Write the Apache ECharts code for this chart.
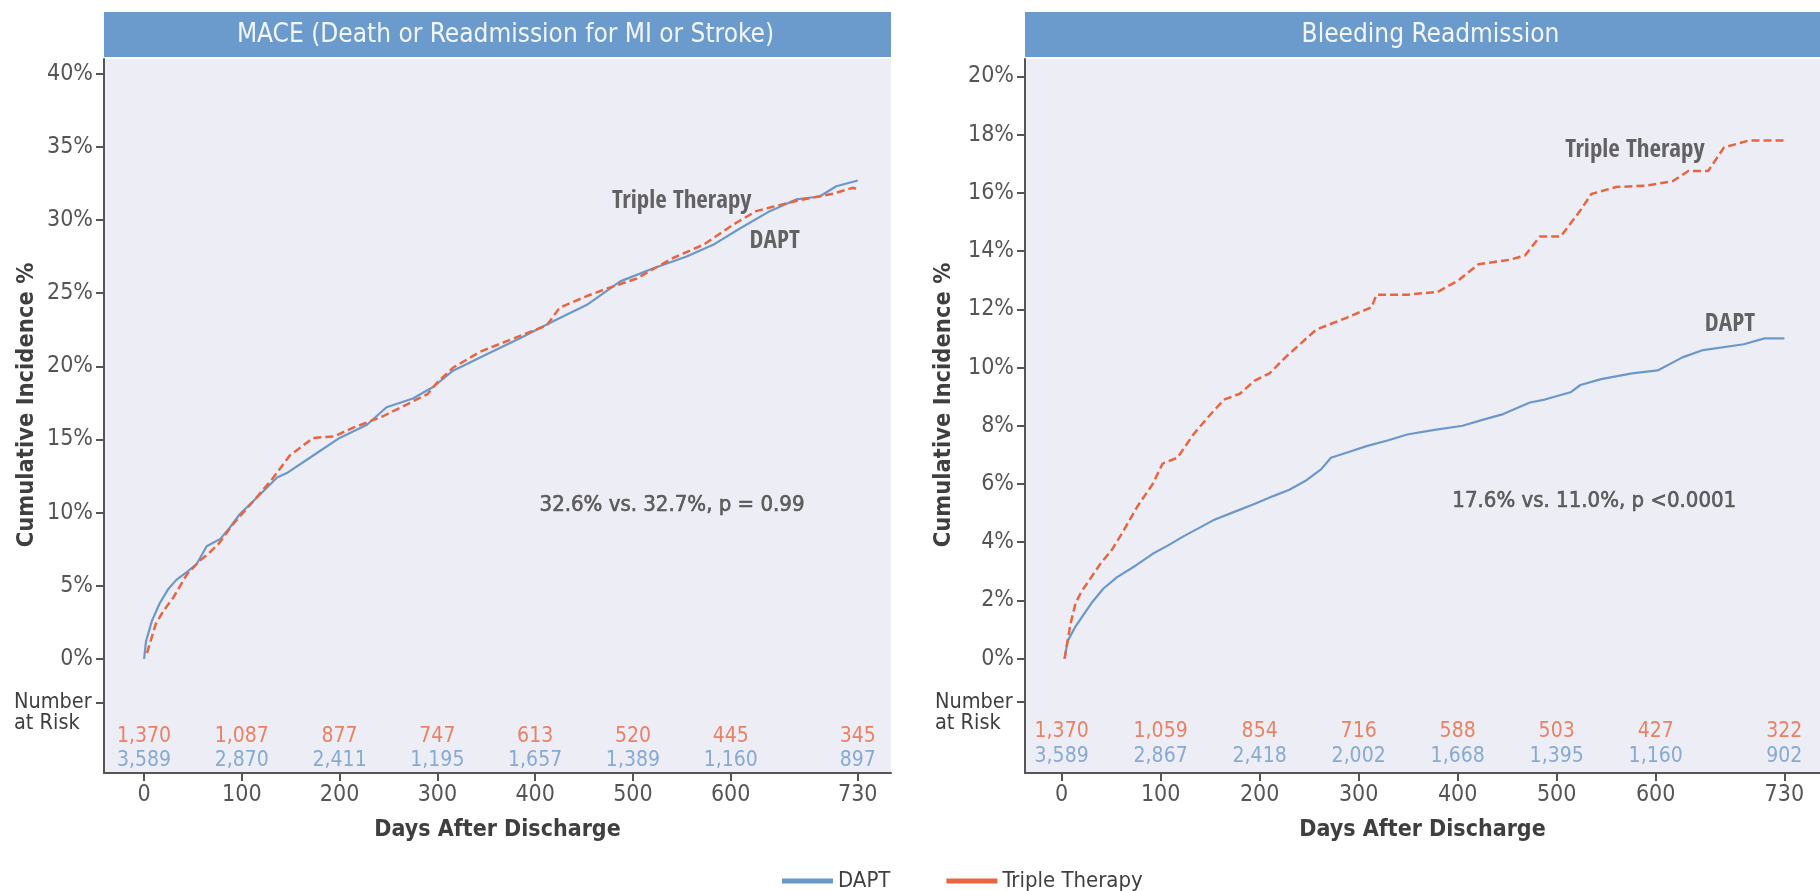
<!DOCTYPE html>
<html><head><meta charset="utf-8">
<script src="https://cdn.jsdelivr.net/npm/echarts@6/dist/echarts.min.js"></script>
<style>html,body{margin:0;padding:0;background:#fff}#c{width:1820px;height:891px}</style>
</head><body><div id="c"></div>
<script>
// ---- data ----
const riskDays = [0, 100, 200, 300, 400, 500, 600, 730];
const maceTripleRisk = ['1,370','1,087','877','747','613','520','445','345'];
const maceDaptRisk   = ['3,589','2,870','2,411','1,195','1,657','1,389','1,160','897'];
const bleedTripleRisk = ['1,370','1,059','854','716','588','503','427','322'];
const bleedDaptRisk   = ['3,589','2,867','2,418','2,002','1,668','1,395','1,160','902'];
const maceTicks = [0, 5, 10, 15, 20, 25, 30, 35, 40];
const bleedTicks = [0, 2, 4, 6, 8, 10, 12, 14, 16, 18, 20];

const maceDapt = [[0,0],[2,1.2],[8,2.6],[16,3.8],[25,4.8],[33,5.4],[45,6.0],[54,6.5],[64,7.7],[78,8.2],[88,9.0],[98,9.9],[115,11.0],[136,12.4],[146,12.7],[173,13.9],[200,15.1],[228,16.0],[248,17.2],[275,17.8],[296,18.6],[316,19.7],[350,20.8],[384,21.9],[419,23.1],[453,24.2],[487,25.8],[521,26.7],[555,27.5],[582,28.3],[609,29.4],[640,30.6],[667,31.4],[691,31.6],[708,32.3],[730,32.7]];
const maceTriple = [[3,0.4],[12,2.4],[20,3.3],[30,4.2],[44,5.8],[57,6.7],[66,7.2],[76,7.85],[91,9.2],[112,10.8],[130,12.2],[139,13.0],[149,13.9],[173,15.1],[194,15.2],[214,15.8],[245,16.6],[269,17.4],[290,18.1],[300,18.9],[316,19.9],[344,21.0],[378,21.9],[412,22.8],[425,24.0],[453,24.8],[473,25.3],[504,26.0],[541,27.4],[572,28.3],[603,29.7],[626,30.6],[643,30.9],[667,31.3],[705,31.8],[725,32.2],[730,32.1]];
const bleedDapt = [[3,0],[6,0.6],[14,1.1],[22,1.5],[30,1.9],[42,2.4],[56,2.8],[75,3.2],[92,3.6],[108,3.9],[123,4.2],[153,4.75],[175,5.05],[194,5.3],[215,5.6],[230,5.8],[246,6.1],[262,6.5],[272,6.9],[290,7.1],[308,7.3],[330,7.5],[349,7.7],[375,7.85],[405,8.0],[425,8.2],[446,8.4],[473,8.8],[488,8.9],[514,9.15],[524,9.4],[545,9.6],[576,9.8],[602,9.9],[627,10.35],[648,10.6],[689,10.8],[710,11.0],[730,11.0]];
const bleedTriple = [[3,0],[6,0.6],[9,1.2],[14,1.9],[20,2.3],[30,2.8],[40,3.3],[50,3.7],[61,4.3],[76,5.2],[92,6.0],[102,6.7],[117,6.9],[133,7.7],[148,8.3],[164,8.9],[180,9.1],[195,9.55],[210,9.8],[226,10.35],[257,11.3],[287,11.7],[313,12.07],[318,12.5],[349,12.5],[380,12.6],[401,13.0],[421,13.55],[452,13.7],[468,13.85],[483,14.5],[504,14.5],[524,15.4],[535,15.96],[560,16.2],[591,16.25],[617,16.4],[633,16.75],[653,16.75],[669,17.56],[694,17.8],[730,17.8]];

const FONT = "'DejaVu Sans Condensed',sans-serif";
const CFONT = "'Open Sans Condensed','DejaVu Sans Condensed',sans-serif";
const BLUE = '#6B98CB', RED = '#E8653F', DARK = '#3F3F3F', AX = '#555';

const panels = [
  {title:'MACE (Death or Readmission for MI or Stroke)', left:104, width:787, xmin:-41, xmax:764, ymin:-7.8, ymax:41,
   ticks:maceTicks, numTick:-2.97, numLabel:-3.68, redRow:-5.3, blueRow:-6.95, nameGap:65,
   dapt:maceDapt, triple:maceTriple, tripleRisk:maceTripleRisk, daptRisk:maceDaptRisk,
   ann:{x:540,y:10.5,t:'32.6% vs. 32.7%, p = 0.99'}, tLab:{x:550,y:31.25}, dLab:{x:645,y:28.5}},
  {title:'Bleeding Readmission', left:1025, width:795, xmin:-37, xmax:766, ymin:-3.93, ymax:20.6,
   ticks:bleedTicks, numTick:-1.49, numLabel:-1.85, redRow:-2.5, blueRow:-3.37, nameGap:69,
   dapt:bleedDapt, triple:bleedTriple, tripleRisk:bleedTripleRisk, daptRisk:bleedDaptRisk,
   ann:{x:538,y:5.4,t:'17.6% vs. 11.0%, p <0.0001'}, tLab:{x:579,y:17.45}, dLab:{x:675,y:11.47}}
];
const TOP = 59, H = 714;

const option = {
  backgroundColor:'#fff',
  animation:false,
  grid: panels.map(p=>({left:p.left, top:TOP, width:p.width, height:H, show:true, backgroundColor:'#EDEDF5', borderWidth:0, outerBoundsMode:'none', containLabel:false})),
  xAxis: panels.map((p,i)=>({
    gridIndex:i, type:'value', min:p.xmin, max:p.xmax,
    axisLine:{show:true, onZero:false, lineStyle:{color:AX, width:2}},
    axisTick:{show:true, customValues:riskDays, length:8, lineStyle:{color:AX, width:2}},
    axisLabel:{customValues:riskDays, fontSize:23, color:AX, margin:11, fontFamily:FONT},
    splitLine:{show:false},
    name:'Days After Discharge', nameLocation:'middle', nameGap:46, nameMoveOverlap:false,
    nameTextStyle:{fontSize:23, fontWeight:'bold', color:DARK, fontFamily:FONT}
  })),
  yAxis: panels.map((p,i)=>({
    gridIndex:i, type:'value', min:p.ymin, max:p.ymax,
    axisLine:{show:true, onZero:false, lineStyle:{color:AX, width:2}},
    axisTick:{show:true, customValues:p.ticks.concat([p.numTick]), length:8, lineStyle:{color:AX, width:2}},
    axisLabel:{customValues:p.ticks.concat([p.numLabel]), fontSize:23, color:AX, margin:11, fontFamily:FONT,
      formatter:v=> v<0 ? '{n|Number}\n{n|at Risk}' : v+'%',
      rich:{n:{width:79, align:'left', fontSize:21.5, lineHeight:21, color:DARK, fontFamily:FONT}}},
    splitLine:{show:false},
    name:'Cumulative Incidence %', nameLocation:'middle', nameGap:p.nameGap, nameMoveOverlap:false,
    nameTextStyle:{fontSize:23.5, fontWeight:'bold', color:DARK, fontFamily:FONT, padding:[0,0,0,22]}
  })),
  legend:{
    data:[{name:'DAPT', icon:'rect'},{name:'Triple Therapy', icon:'rect'}],
    left:777, top:865, itemWidth:51, itemHeight:5, itemGap:56,
    textStyle:{fontSize:22, color:DARK, fontFamily:FONT}
  },
  graphic: panels.flatMap(p=>[
    {type:'rect', shape:{x:p.left, y:12, width:p.width, height:45}, style:{fill:'#6B9BCC'}, silent:true},
    {type:'text', x:p.left+p.width/2+8, y:35, style:{text:p.title, fill:'#F2F6FB', fontSize:26, fontFamily:FONT, align:'center', verticalAlign:'middle'}, silent:true}
  ]),
  series: panels.flatMap((p,i)=>[
    {name:'DAPT', type:'line', xAxisIndex:i, yAxisIndex:i, data:p.dapt, showSymbol:false, symbol:'none', color:BLUE,
     lineStyle:{color:BLUE, width:2.2}, z:3},
    {name:'Triple Therapy', type:'line', xAxisIndex:i, yAxisIndex:i, data:p.triple, showSymbol:false, symbol:'none', color:RED,
     lineStyle:{color:RED, width:2.5, type:[8,4]}, z:4},
    {type:'scatter', xAxisIndex:i, yAxisIndex:i, symbolSize:0, silent:true,
     data:riskDays.map((d,k)=>[d,p.redRow,p.tripleRisk[k]]),
     label:{show:true, position:'inside', formatter:q=>q.data[2], color:RED, fontSize:21, fontFamily:FONT}},
    {type:'scatter', xAxisIndex:i, yAxisIndex:i, symbolSize:0, silent:true,
     data:riskDays.map((d,k)=>[d,p.blueRow,p.daptRisk[k]]),
     label:{show:true, position:'inside', formatter:q=>q.data[2], color:BLUE, fontSize:21, fontFamily:FONT}},
    {type:'scatter', xAxisIndex:i, yAxisIndex:i, symbolSize:0, silent:true,
     data:[[p.ann.x,p.ann.y,p.ann.t]],
     label:{show:true, position:'inside', formatter:q=>q.data[2], color:DARK, fontSize:22, fontFamily:FONT,
            textBorderColor:DARK, textBorderWidth:0.6}},
    {type:'scatter', xAxisIndex:i, yAxisIndex:i, symbolSize:0, silent:true,
     data:[[p.tLab.x,p.tLab.y,'Triple Therapy'],[p.dLab.x,p.dLab.y,'DAPT']],
     label:{show:true, position:'inside', formatter:q=>q.data[2], color:DARK, fontSize:25, fontWeight:'bold', fontFamily:CFONT}}
  ])
};
const chart = echarts.init(document.getElementById('c'), null, {renderer:'canvas'});
chart.setOption(option);
</script></body></html>
